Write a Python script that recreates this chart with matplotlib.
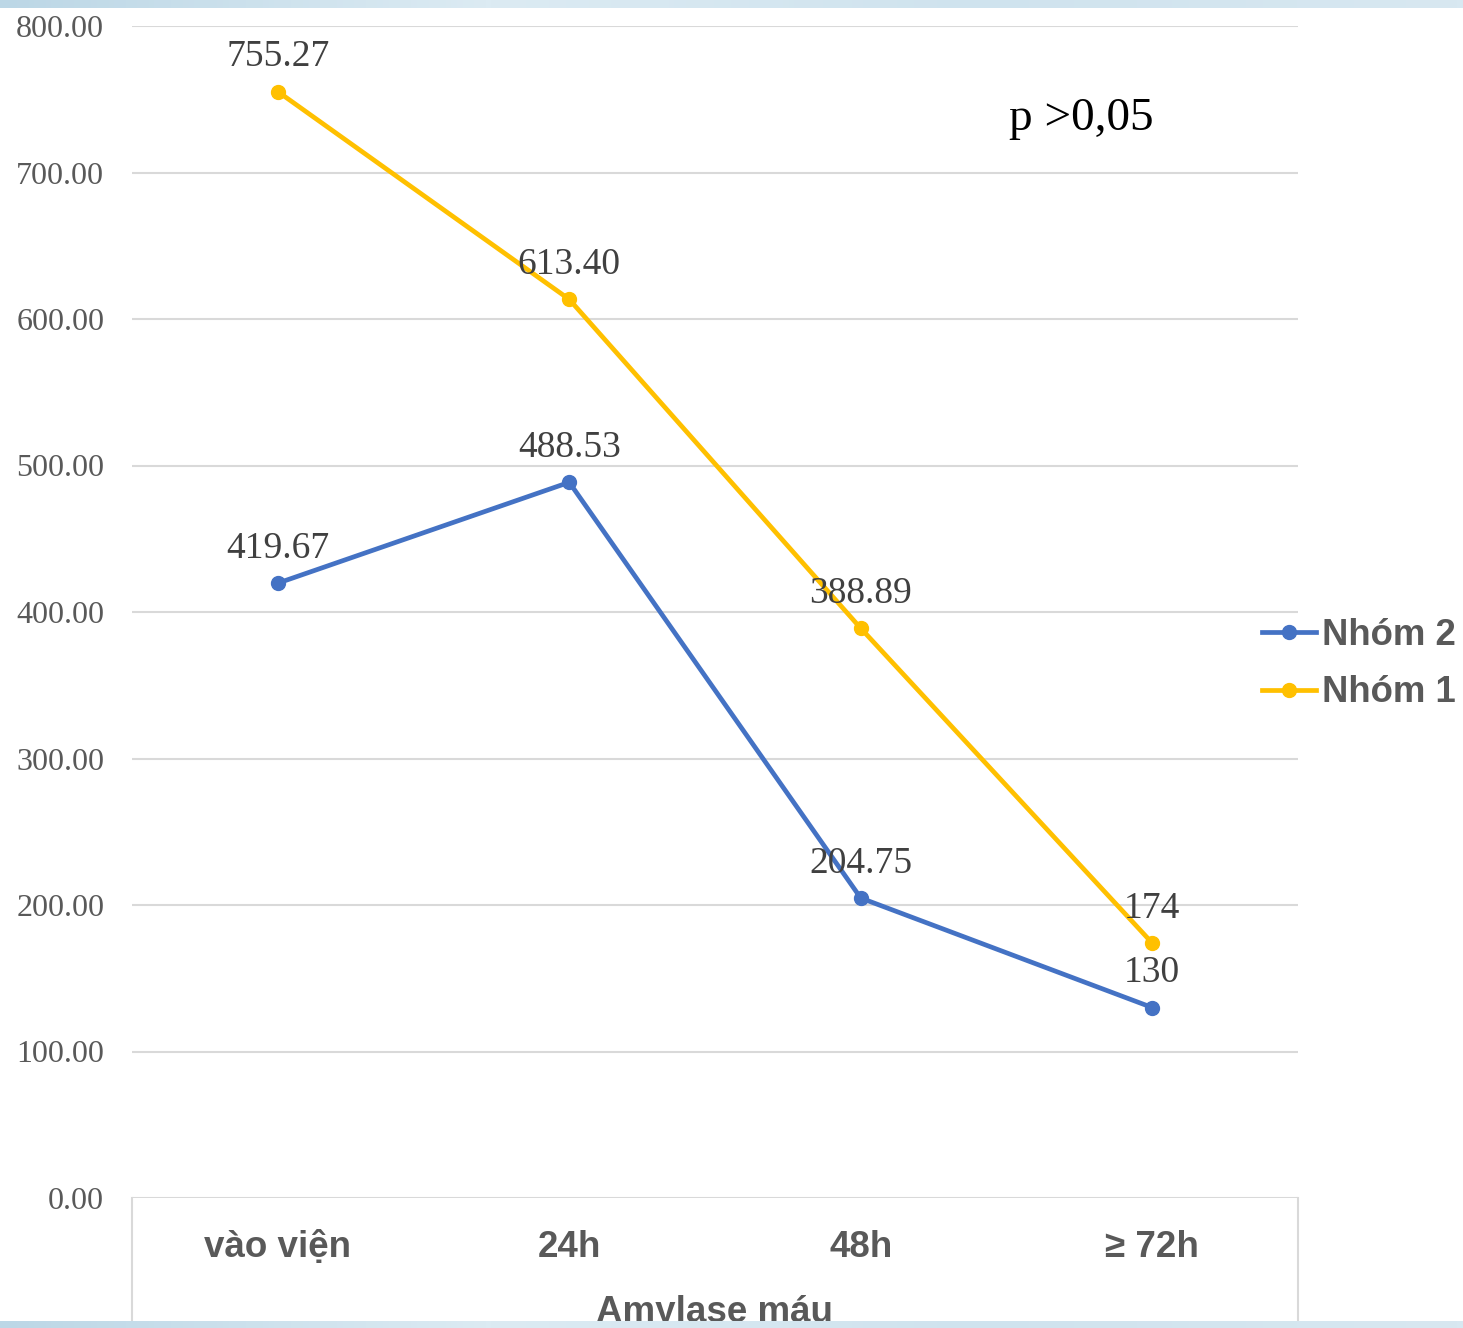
import numpy as np
import matplotlib.pyplot as plt
from matplotlib.colors import LinearSegmentedColormap

categories = ["vào viện", "24h", "48h", "≥ 72h"]
nhom2 = [419.67, 488.53, 204.75, 130]
nhom1 = [755.27, 613.40, 388.89, 174]
labels2 = ["419.67", "488.53", "204.75", "130"]
labels1 = ["755.27", "613.40", "388.89", "174"]
yticks = [0, 100, 200, 300, 400, 500, 600, 700, 800]

W, H = 1463, 1328
fig = plt.figure(figsize=(W / 100, H / 100), dpi=100)
fig.patch.set_facecolor("white")

ax = fig.add_axes([132 / W, 1 - 1198 / H, (1298 - 132) / W, (1198 - 26) / H])
x = np.arange(len(categories))

blue = "#4472C4"
gold = "#FFC000"
ax.plot(x, nhom2, color=blue, lw=3.4, marker="o", ms=10, label="Nhóm 2", zorder=3)
ax.plot(x, nhom1, color=gold, lw=3.4, marker="o", ms=10, label="Nhóm 1", zorder=3)

for xi, v, t in zip(x, nhom2, labels2):
    ax.annotate(t, (xi, v), xytext=(0, 25), textcoords="offset points",
                ha="center", va="center", family="Liberation Serif",
                fontsize=27, color="#404040", zorder=4)
for xi, v, t in zip(x, nhom1, labels1):
    ax.annotate(t, (xi, v), xytext=(0, 25), textcoords="offset points",
                ha="center", va="center", family="Liberation Serif",
                fontsize=27, color="#404040", zorder=4)

ax.set_xlim(-0.5, 3.5)
ax.set_ylim(0, 800)
ax.set_yticks(yticks)
ax.set_yticklabels([f"{v:.2f}" for v in yticks], family="Liberation Serif",
                   fontsize=23, color="#595959")
ax.set_xticks(x)
ax.set_xticklabels(categories, family="Liberation Sans", fontweight="bold",
                   fontsize=26.5, color="#595959")
ax.tick_params(axis="both", length=0)
ax.tick_params(axis="y", pad=20)
ax.tick_params(axis="x", pad=23)
for s in ax.spines.values():
    s.set_visible(False)
ax.yaxis.grid(True, color="#d9d9d9", lw=1.5)
ax.set_axisbelow(True)

# box lines under the category axis
for xv in (-0.5, 3.5):
    ax.plot([xv, xv], [0, -100], color="#d9d9d9", lw=1.5, clip_on=False)

ax.text(0.814, 0.921, "p >0,05", transform=ax.transAxes, ha="center", va="center",
        family="Liberation Serif", fontsize=34, color="black")

fig.text(715 / W, 1 - 1313 / H, "Amylase máu", ha="center", va="center",
         family="Liberation Sans", fontweight="bold", fontsize=26.5, color="#595959")

leg = ax.legend(loc="center left", bbox_to_anchor=(1262 / W, 1 - 664 / H),
                bbox_transform=fig.transFigure, frameon=False, borderpad=0,
                borderaxespad=0, handlelength=1.48, handletextpad=0.15,
                labelspacing=0.62,
                prop={"family": "Liberation Sans", "weight": "bold", "size": 26.3})
for t in leg.get_texts():
    t.set_color("#595959")

# light blue bands along top and bottom edges
grad = np.linspace(0, 1, 256).reshape(1, -1)
cmap = LinearSegmentedColormap.from_list("band", ["#bcd7e6", "#dcebf3", "#cfe3ee", "#d8e8f1"])
for y0, h in ((1 - 8 / H, 8 / H), (0, 7 / H)):
    bax = fig.add_axes([0, y0, 1, h])
    bax.imshow(grad, aspect="auto", cmap=cmap)
    bax.axis("off")
    bax.set_zorder(10)

fig.savefig("out.png", dpi=100)
